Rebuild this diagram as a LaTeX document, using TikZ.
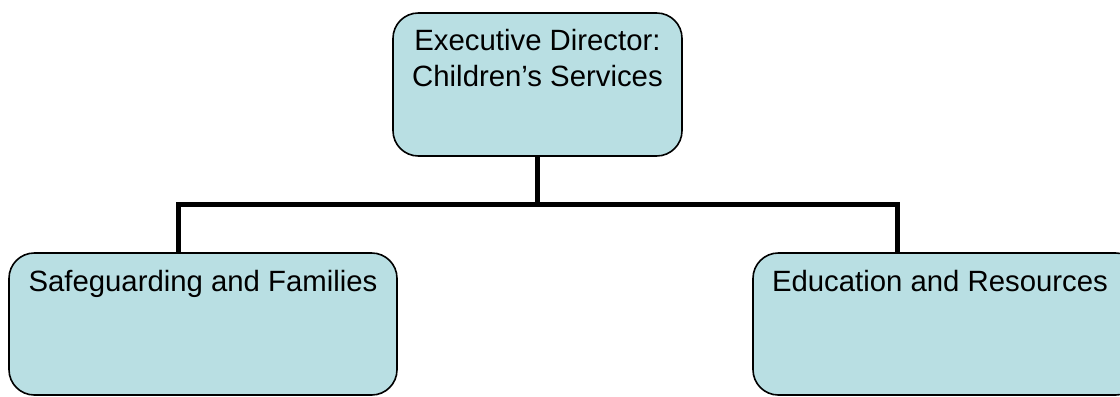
\documentclass[tikz,border=0pt]{standalone}
\usepackage{fontspec}
\setmainfont{Liberation Sans}
\definecolor{boxfill}{RGB}{185,223,227}
\begin{document}
\begin{tikzpicture}[x=0.75pt,y=-0.75pt,
  orgbox/.style={draw=black,line width=1.2pt,fill=boxfill,rounded corners=19pt,inner sep=0pt},
  orgtext/.style={font=\fontsize{22}{26.5}\selectfont,align=center,inner sep=0pt,anchor=base},
  link/.style={line width=3.75pt,line join=miter,line cap=butt}]
\useasboundingbox (0,0) rectangle (1120,396);
\begin{scope}
\clip (0,0) rectangle (1120,396);
\node[orgbox,minimum width=289*0.75pt,minimum height=143*0.75pt] (top) at (537.5,84.5) {};
\node[orgbox,minimum width=388*0.75pt,minimum height=142*0.75pt] (lbox) at (203,324) {};
\node[orgbox,minimum width=388*0.75pt,minimum height=142*0.75pt] (rbox) at (947,324) {};
\end{scope}
\node[orgtext] (toptext) at (537.5,86) {Executive Director:\\Children’s Services};
\node[orgtext] (ltext) at (203,291) {Safeguarding and Families};
\node[orgtext] (rtext) at (940,291) {Education and Resources};
\coordinate (jn) at (537,204);
\coordinate (hl) at (178,204);
\coordinate (hr) at (897,204);
\draw[link] (top.south -| jn) -- (jn);
\draw[link] (lbox.north -| hl) -- (hl) -- (hr) -- (rbox.north -| hr);
\end{tikzpicture}
\end{document}
